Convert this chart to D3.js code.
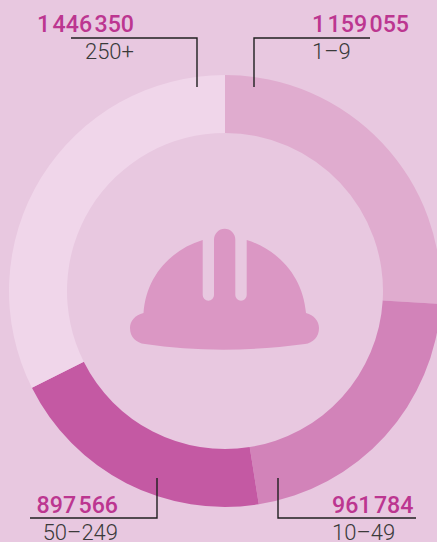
<!DOCTYPE html>
<html>
<head>
<meta charset="utf-8">
<script src="https://cdn.jsdelivr.net/npm/d3@7"></script>
<style>
    html, body { margin: 0; padding: 0; background: #e8c8e0; overflow: hidden; }
    text { font-family: Roboto, sans-serif; }
</style>
</head>
<body>
<div id="chart"></div>
<script>
const categories = ['1\u20139', '10\u201349', '50\u2013249', '250+'];
const values = [1159055, 961784, 897566, 1446350];
const colors = ['#e0accf', '#d283b9', '#c459a3', '#f0d6ea'];

const width = 437, height = 542;
const cx = 225, cy = 291;
const outer = 216, inner = 158;

/* leader line for each slice: elbow point, far end of the rule, end of the stem */
const leaders = [
    { x: 254, y: 38, ruleEnd: 370, stemEnd: 87, textX: 312, anchor: 'start', numY: 32, labelY: 59 },
    { x: 278, y: 518, ruleEnd: 416, stemEnd: 478, textX: 332, anchor: 'start', numY: 513, labelY: 540 },
    { x: 157, y: 518, ruleEnd: 30, stemEnd: 478, textX: 118, anchor: 'end', numY: 513, labelY: 540 },
    { x: 197, y: 38, ruleEnd: 71, stemEnd: 87, textX: 134, anchor: 'end', numY: 32, labelY: 59 }
];

const fmt = d3.formatLocale({ decimal: '.', thousands: '\u200a', grouping: [3], currency: ['', ''] }).format(',');

const svg = d3.select('#chart')
    .append('svg')
    .attr('width', width)
    .attr('height', height)
    .style('display', 'block');

const pie = d3.pie().sort(null)(values);
const arc = d3.arc().innerRadius(inner).outerRadius(outer);

svg.append('g')
    .attr('transform', `translate(${cx}, ${cy})`)
    .selectAll('path')
    .data(pie)
    .enter()
    .append('path')
    .attr('d', arc)
    .attr('fill', (d, i) => colors[i]);

/* helmet icon */
svg.append('path')
    .attr('fill', '#db97c4')
    .attr('d', 'M143.5 313 C146 277 170 250 202.7 240 L202.7 295 A5.65 5.65 0 0 0 214 295 L214 239.5 A10.6 10.6 0 0 1 235.3 239.5 L235.3 295 A5.65 5.65 0 0 0 246.7 295 L246.7 240 C279 250 303 277 306 313 C314 315 319 321 319 328 C319 337 313 343 305 344 C250 351.5 195 351.5 145 344 C136 343 130 337 130 328 C130 321 135 315 143.5 313 Z');

const leader = svg.selectAll('.leader')
    .data(leaders)
    .enter()
    .append('g')
    .attr('class', 'leader');

leader.append('path')
    .attr('fill', 'none')
    .attr('stroke', '#1f1f1f')
    .attr('stroke-width', 1.4)
    .attr('d', d => `M${d.ruleEnd} ${d.y} H${d.x} V${d.stemEnd}`);

leader.append('text')
    .text((d, i) => fmt(values[i]))
    .attr('x', d => d.textX)
    .attr('y', d => d.numY)
    .attr('text-anchor', d => d.anchor)
    .attr('fill', '#bc3690')
    .attr('font-size', 23.2)
    .attr('font-weight', 500);

leader.append('text')
    .text((d, i) => categories[i])
    .attr('x', d => d.textX)
    .attr('y', d => d.labelY)
    .attr('text-anchor', d => d.anchor)
    .attr('fill', '#3a3a3a')
    .attr('font-size', 22)
    .attr('font-weight', 300);
</script>
</body>
</html>
